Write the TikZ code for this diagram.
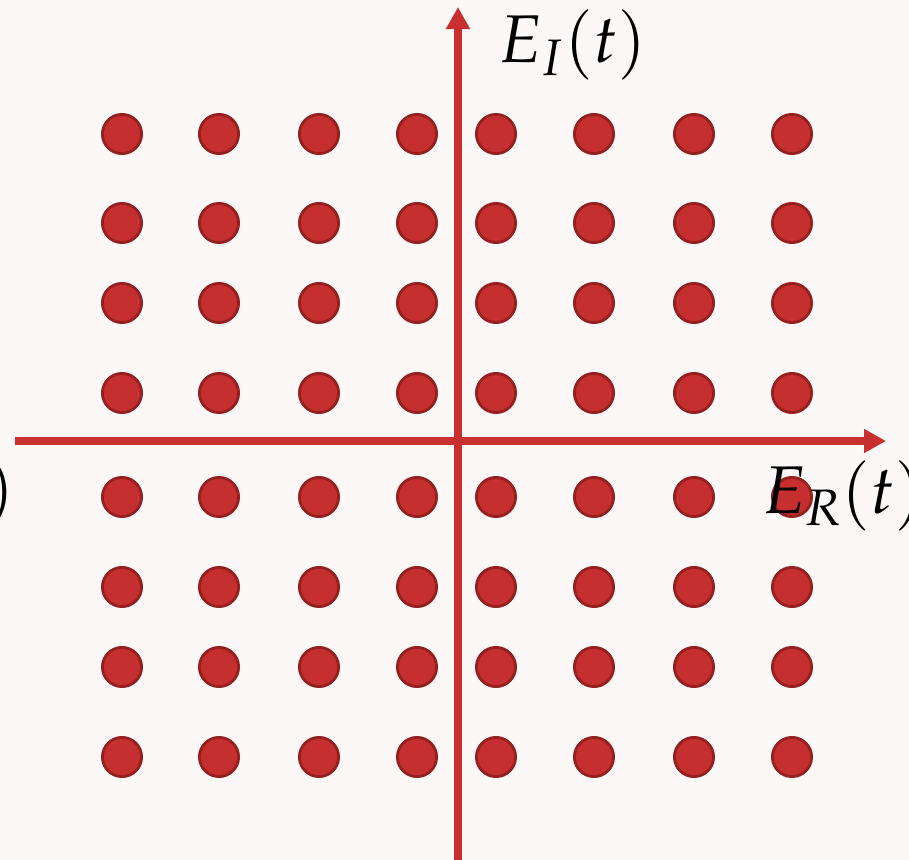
\documentclass[tikz,border=0pt]{standalone}
\usepackage{mathpazo}
\usetikzlibrary{arrows.meta}
\definecolor{axisred}{HTML}{C8302F}
\definecolor{dotred}{HTML}{C62F2F}
\definecolor{dotedge}{HTML}{962020}
\definecolor{bgpink}{HTML}{FCF8F8}
\tikzset{
  symbol/.style={draw=dotedge, fill=dotred, line width=2pt},
  axis/.style={->, axisred, line width=5pt},
}
\begin{document}
\begin{tikzpicture}[x=0.025cm, y=-0.025cm, line join=round,
  >={Triangle[length=0.55cm, width=0.57cm]},
  font=\fontsize{48}{52}\selectfont]
  % background and frame
  \fill[bgpink] (0,0) rectangle (909,860);
  \useasboundingbox (0,0) rectangle (909,860);

  % constellation points
  \foreach \y in {134,223,303,393,497,587,667,757}
    \foreach \x in {122,219,319,417,496,594,694,792}
      \draw[symbol] (\x,\y) circle (0.49cm);

  % axes
  \coordinate (xstart) at (15,441);
  \coordinate (xend) at (886,441);
  \coordinate (ystart) at (458,860);
  \coordinate (yend) at (458,7);
  \draw[axis] (xstart) -- (xend);
  \draw[axis] (ystart) -- (yend);

  % labels
  \node[anchor=base west, inner sep=0pt] (imlabel) at (498,63) {$E_I(t)$};
  \node[anchor=base west, inner sep=0pt] (relabel) at (762,513) {$E_R(t)$};
  \node[anchor=base east, inner sep=0pt] (leftlabel) at (15,510) {$)$};
\end{tikzpicture}
\end{document}
